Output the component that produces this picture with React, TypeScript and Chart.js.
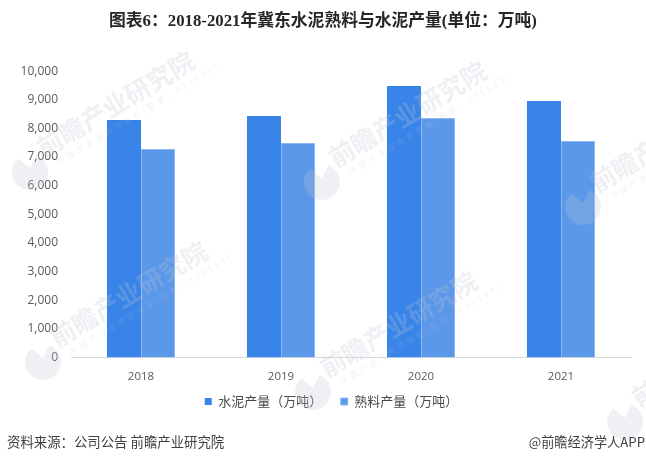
import { useEffect, useRef } from 'react'
import { Chart, registerables, type Plugin } from 'chart.js'

Chart.register(...registerables)

const YEARS = ['2018', '2019', '2020', '2021']
const CEMENT = [8290, 8430, 9480, 8960]
const CLINKER = [7280, 7490, 8360, 7560]

const TITLE = '图表6：2018-2021年冀东水泥熟料与水泥产量(单位：万吨)'
const SOURCE = '资料来源：公司公告 前瞻产业研究院'
const CREDIT = '@前瞻经济学人APP'
const CJK = '"Noto Sans CJK SC", "Noto Sans", sans-serif'
const LATIN = '"Open Sans", Roboto, sans-serif'

// 水印 (logo 圆心)
const MARKS = [
  [30, 172], [322, 182], [43, 362], [313, 392], [583, 207], [625, 422],
]

const backdrop: Plugin<'bar'> = {
  id: 'backdrop',
  afterLayout(chart) {
    // 图例在标题右侧一点，并贴近 x 轴
    if (chart.legend) {
      chart.legend.left += 8.5
      chart.legend.right += 8.5
      chart.legend.top -= 9
      chart.legend.bottom -= 9
    }
  },
  afterDatasetsDraw(chart) {
    const { ctx } = chart
    MARKS.forEach(([x, y]) => {
      ctx.save()
      ctx.translate(x, y)
      ctx.fillStyle = 'rgba(190,198,212,0.26)'
      ctx.beginPath()
      ctx.moveTo(0, -4)
      ctx.arc(0, 0, 18, -1.2, 4.0)
      ctx.closePath()
      ctx.fill()
      ctx.translate(9, -22)
      ctx.rotate((-31 * Math.PI) / 180)
      ctx.font = `bold 25.5px ${CJK}`
      ctx.textBaseline = 'middle'
      ctx.fillText('前瞻产业研究院', 0, 0)
      ctx.font = `8px ${CJK}`
      ctx.letterSpacing = '3px'
      ctx.fillStyle = 'rgba(190,198,212,0.22)'
      ctx.fillText('中国产业咨询领导者(股票：839599)', 10, 20)
      ctx.restore()
    })
  },
  afterDraw(chart) {
    const { ctx } = chart
    ctx.save()
    ctx.font = `13.4px ${CJK}`
    ctx.fillStyle = '#404040'
    ctx.textBaseline = 'middle'
    ctx.textAlign = 'left'
    ctx.fillText(SOURCE, 7, 442)
    ctx.textAlign = 'right'
    ctx.font = `13.2px ${CJK}`
    ctx.fillText(CREDIT, 645, 442)
    ctx.restore()
  },
}

export default function App() {
  const canvasRef = useRef<HTMLCanvasElement>(null)

  useEffect(() => {
    document.body.style.margin = '0'
    if (!canvasRef.current) return
    const chart = new Chart(canvasRef.current, {
      type: 'bar',
      data: {
        labels: YEARS,
        datasets: [
          {
            label: '水泥产量（万吨）',
            data: CEMENT,
            backgroundColor: '#3884e8',
            borderWidth: 0,
            categoryPercentage: 0.486,
            barPercentage: 1,
          },
          {
            label: '熟料产量（万吨）',
            data: CLINKER,
            backgroundColor: '#5b98e9',
            borderColor: '#8db8f1',
            borderWidth: 1,
            categoryPercentage: 0.486,
            barPercentage: 1,
          },
        ],
      },
      options: {
        responsive: false,
        animation: false,
        layout: { padding: { left: 15, right: 15, top: 0, bottom: 36 } },
        plugins: {
          tooltip: { enabled: false },
          title: {
            display: true,
            text: TITLE,
            color: '#262626',
            font: { family: `"Liberation Serif", ${CJK}`, size: 16.8, weight: 'bold' },
            padding: { top: 12, bottom: 39 },
          },
          legend: {
            position: 'bottom',
            labels: {
              color: '#4a4a4a',
              font: { family: CJK, size: 13 },
              boxWidth: 7,
              boxHeight: 7,
              padding: 18.5,
            },
          },
        },
        scales: {
          x: {
            grid: { display: false },
            border: { color: '#d9d9d9' },
            afterFit(axis) { axis.height = 28 },
            ticks: { color: '#595959', font: { family: LATIN, size: 11.5 }, padding: 4 },
          },
          y: {
            min: 0,
            max: 10000,
            grid: { display: false, drawTicks: false },
            border: { display: false },
            afterFit(axis) { axis.width = 56 },
            ticks: {
              stepSize: 1000,
              color: '#595959',
              padding: 13,
              font: { family: LATIN, size: 12 },
            },
          },
        },
      },
      plugins: [backdrop],
    })
    return () => chart.destroy()
  }, [])

  return (
    <div style={{ width: 646, height: 463 }}>
      <canvas ref={canvasRef} width={646} height={463} style={{ display: 'block' }} />
    </div>
  )
}
